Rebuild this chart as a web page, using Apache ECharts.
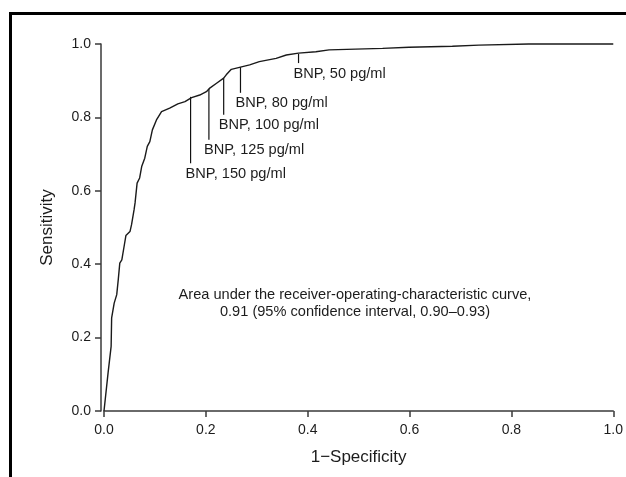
<!DOCTYPE html>
<html>
<head>
<meta charset="utf-8">
<script src="https://cdn.jsdelivr.net/npm/echarts@6/dist/echarts.min.js"></script>
<style>
  html, body { margin: 0; padding: 0; background: #fff; }
  #main { width: 626px; height: 477px; }
</style>
</head>
<body>
<div id="main"></div>
<script>
// ROC curve (1-specificity, sensitivity)
var rocX = [0, 0.002, 0.008, 0.014, 0.015, 0.020, 0.025, 0.028, 0.031, 0.035, 0.040, 0.043, 0.051, 0.054,
            0.059, 0.061, 0.065, 0.070, 0.074, 0.080, 0.085, 0.090, 0.095, 0.103, 0.113, 0.129, 0.145,
            0.159, 0.172, 0.188, 0.201, 0.207, 0.221, 0.235, 0.240, 0.250, 0.268, 0.286, 0.305, 0.338,
            0.358, 0.382, 0.416, 0.442, 0.494, 0.547, 0.599, 0.684, 0.736, 0.834, 1.0];
var rocY = [0, 0.002, 0.104, 0.176, 0.254, 0.294, 0.317, 0.358, 0.403, 0.412, 0.453, 0.478, 0.489, 0.507,
            0.548, 0.567, 0.621, 0.635, 0.666, 0.689, 0.721, 0.734, 0.766, 0.793, 0.816, 0.825, 0.837,
            0.843, 0.854, 0.861, 0.870, 0.879, 0.893, 0.907, 0.916, 0.931, 0.937, 0.943, 0.952, 0.961,
            0.970, 0.975, 0.979, 0.984, 0.986, 0.988, 0.991, 0.994, 0.997, 1.0, 1.0];

// BNP cut-off annotations: x position, curve y, bottom of pointer line
var bnpLabels = ['BNP, 50 pg/ml', 'BNP, 80 pg/ml', 'BNP, 100 pg/ml', 'BNP, 125 pg/ml', 'BNP, 150 pg/ml'];
var bnpX = [0.382, 0.268, 0.235, 0.206, 0.170];
var bnpTop = [0.973, 0.937, 0.907, 0.878, 0.856];
var bnpBottom = [0.948, 0.867, 0.807, 0.739, 0.675];

var aucText = 'Area under the receiver-operating-characteristic curve,\n0.91 (95% confidence interval, 0.90\u20130.93)';

var chart = echarts.init(document.getElementById('main'));
var FONT = 'Liberation Sans, Arial, sans-serif';
var ink = '#1c1c1c';

var rocData = rocX.map(function (x, i) { return [x, rocY[i]]; });
var bnpData = bnpX.map(function (x, i) { return [x, bnpTop[i], bnpBottom[i]]; });

var option = {
    animation: false,
    backgroundColor: '#fff',
    grid: { left: 104, right: 11, top: 44, bottom: 66 },
    xAxis: {
        type: 'value', min: 0, max: 1, interval: 0.2,
        name: '1\u2212Specificity', nameLocation: 'middle', nameGap: 38,
        nameTextStyle: { fontSize: 17, color: ink, fontFamily: FONT },
        axisLine: { onZero: false, lineStyle: { color: '#3a3a3a', width: 1.5 } },
        axisTick: { length: 6, lineStyle: { color: '#3a3a3a', width: 1.5 } },
        axisLabel: { fontSize: 14, color: ink, fontFamily: FONT, margin: 12,
            formatter: function (v) { return v.toFixed(1); } },
        splitLine: { show: false }
    },
    yAxis: {
        type: 'value', min: 0, max: 1, interval: 0.2, offset: 3,
        name: 'Sensitivity', nameLocation: 'middle', nameGap: 45,
        nameTextStyle: { fontSize: 17, color: ink, fontFamily: FONT },
        axisLine: { onZero: false, lineStyle: { color: '#3a3a3a', width: 1.5 } },
        axisTick: { length: 6, lineStyle: { color: '#3a3a3a', width: 1.5 } },
        axisLabel: { fontSize: 14, color: ink, fontFamily: FONT, margin: 10,
            formatter: function (v) { return v.toFixed(1); } },
        splitLine: { show: false }
    },
    graphic: [
        { type: 'rect', shape: { x: 9, y: 12, width: 3, height: 480 }, style: { fill: '#000' } },
        { type: 'rect', shape: { x: 9, y: 12, width: 640, height: 3 }, style: { fill: '#000' } },
        { type: 'text', x: 355, y: 303,
          style: { text: aucText, fill: ink, font: '14.6px ' + FONT, align: 'center',
                   verticalAlign: 'middle', lineHeight: 17 } }
    ],
    series: [
        {
            type: 'line', data: rocData, showSymbol: false, clip: false,
            lineStyle: { color: '#1a1a1a', width: 1.4 }
        },
        {
            type: 'custom', data: bnpData, clip: false,
            renderItem: function (params, api) {
                var top = api.coord([api.value(0), api.value(1)]);
                var bot = api.coord([api.value(0), api.value(2)]);
                return {
                    type: 'group',
                    children: [
                        { type: 'line', shape: { x1: top[0], y1: top[1], x2: bot[0], y2: bot[1] },
                          style: { stroke: '#111', lineWidth: 1.2 } },
                        { type: 'text',
                          style: { x: bot[0] - 5, y: bot[1] + 3, text: bnpLabels[params.dataIndex],
                                   fill: ink, font: '14.6px ' + FONT, align: 'left', verticalAlign: 'top' } }
                    ]
                };
            }
        }
    ]
};

chart.setOption(option);
</script>
</body>
</html>
